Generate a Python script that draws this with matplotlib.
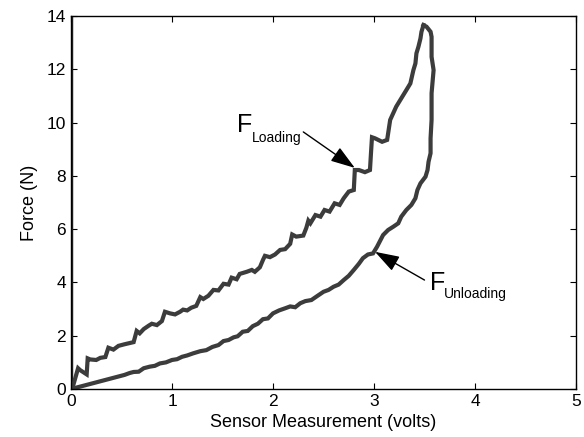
import matplotlib.pyplot as plt
import numpy as np

plt.rcParams['font.family'] = ['Liberation Sans', 'DejaVu Sans']

# Loading branch (sensor volts, force N)
load_v = [0.00, 0.013, 0.07, 0.09, 0.155, 0.165, 0.19, 0.25, 0.29, 0.34, 0.37, 0.42,
          0.47, 0.53, 0.62, 0.65, 0.68, 0.72, 0.77, 0.80, 0.85, 0.90, 0.93, 0.98,
          1.03, 1.08, 1.11, 1.15, 1.19, 1.24, 1.28, 1.31, 1.36, 1.41, 1.46, 1.51,
          1.56, 1.59, 1.64, 1.67, 1.74, 1.79, 1.82, 1.87, 1.90, 1.92, 1.97, 2.02,
          2.07, 2.12, 2.17, 2.19, 2.23, 2.30, 2.33, 2.35, 2.37, 2.42, 2.47, 2.51,
          2.56, 2.61, 2.66, 2.70, 2.75, 2.80, 2.81, 2.85, 2.91, 2.96, 2.97, 2.98,
          3.01, 3.08, 3.13, 3.14, 3.16, 3.19, 3.22, 3.27, 3.32, 3.36, 3.39, 3.41,
          3.42, 3.44, 3.46, 3.47, 3.49]
load_f = [0.00, 0.02, 0.78, 0.71, 0.55, 1.15, 1.11, 1.09, 1.17, 1.20, 1.55, 1.48,
          1.62, 1.68, 1.76, 2.18, 2.09, 2.25, 2.38, 2.45, 2.40, 2.55, 2.90, 2.84,
          2.80, 2.90, 2.98, 2.95, 3.05, 3.12, 3.45, 3.38, 3.50, 3.72, 3.70, 3.95,
          3.92, 4.18, 4.12, 4.32, 4.40, 4.47, 4.40, 4.57, 4.84, 5.00, 4.95, 5.05,
          5.22, 5.25, 5.45, 5.80, 5.72, 5.76, 6.05, 6.32, 6.22, 6.53, 6.47, 6.72,
          6.66, 6.97, 6.91, 7.16, 7.41, 7.47, 8.22, 8.22, 8.14, 8.22, 8.85, 9.45,
          9.41, 9.28, 9.35, 9.60, 10.10, 10.35, 10.60, 10.91, 11.22, 11.47, 11.97, 12.22,
          12.60, 12.85, 13.16, 13.41, 13.66]

# Unloading branch
unload_v = [3.49, 3.52, 3.56, 3.57, 3.57, 3.59, 3.57, 3.57, 3.56, 3.56, 3.54, 3.53,
            3.51, 3.46, 3.43, 3.41, 3.37, 3.32, 3.27, 3.24, 3.19, 3.14, 3.09, 3.03,
            2.99, 2.94, 2.89, 2.85, 2.80, 2.75, 2.70, 2.65, 2.60, 2.55, 2.50, 2.43,
            2.38, 2.32, 2.27, 2.22, 2.17, 2.12, 2.06, 2.00, 1.95, 1.90, 1.85, 1.80,
            1.75, 1.70, 1.65, 1.61, 1.56, 1.51, 1.46, 1.40, 1.34, 1.28, 1.21, 1.15,
            1.10, 1.05, 1.00, 0.94, 0.88, 0.83, 0.78, 0.72, 0.67, 0.62, 0.58, 0.53,
            0.00]
unload_f = [13.66, 13.60, 13.41, 13.22, 12.47, 11.97, 11.10, 10.10, 9.41, 8.85, 8.53, 8.22,
            7.97, 7.72, 7.47, 7.16, 6.91, 6.72, 6.47, 6.22, 6.09, 5.97, 5.78, 5.34,
            5.09, 5.05, 4.91, 4.70, 4.47, 4.25, 4.09, 3.92, 3.84, 3.72, 3.65, 3.47,
            3.34, 3.30, 3.22, 3.07, 3.10, 3.03, 2.95, 2.84, 2.65, 2.62, 2.45, 2.36,
            2.18, 2.15, 1.98, 1.94, 1.84, 1.80, 1.65, 1.58, 1.46, 1.42, 1.34, 1.26,
            1.21, 1.12, 1.09, 1.00, 0.96, 0.87, 0.84, 0.78, 0.65, 0.64, 0.60, 0.53,
            0.00]

# vertical trace along the y axis at zero volts
zero_v = [0.0, 0.0]
zero_f = [0.0, 14.0]

line_color = "#3c3c3c"

fig = plt.figure(figsize=(5.84, 4.37), dpi=100)
ax = fig.add_axes([0.1216, 0.1098, 0.8647, 0.8535])

ax.plot(zero_v, zero_f, color="#222222", linewidth=3.2, solid_capstyle="butt")
ax.plot(load_v, load_f, color=line_color, linewidth=3.0, solid_joinstyle="miter")
ax.plot(unload_v, unload_f, color=line_color, linewidth=3.0, solid_joinstyle="miter")

ax.set_xlim(0, 5)
ax.set_ylim(0, 14)
ax.set_xticks(np.arange(0, 6, 1))
ax.set_yticks(np.arange(0, 15, 2))
ax.tick_params(direction="in", top=True, right=True, length=4, labelsize=12.5)
for s in ax.spines.values():
    s.set_linewidth(1.0)

ax.set_xlabel("Sensor Measurement (volts)", fontsize=13, labelpad=4)
ax.set_ylabel("Force (N)", fontsize=13, labelpad=6)

arrow = dict(arrowstyle="-|>,head_length=0.75,head_width=0.25", color="black",
             lw=1.0, mutation_scale=20, shrinkA=0, shrinkB=0)

# F_Loading label
ax.text(1.64, 9.64, "F", fontsize=18, ha="left", va="baseline")
ax.text(1.79, 9.27, "Loading", fontsize=10, ha="left", va="baseline")
ax.annotate("", xy=(2.81, 8.30), xytext=(2.30, 9.65), arrowprops=arrow)

# F_Unloading label
ax.text(3.55, 3.72, "F", fontsize=18, ha="left", va="baseline")
ax.text(3.69, 3.40, "Unloading", fontsize=10, ha="left", va="baseline")
ax.annotate("", xy=(3.01, 5.15), xytext=(3.50, 4.09), arrowprops=arrow)

fig.savefig("out.png")
